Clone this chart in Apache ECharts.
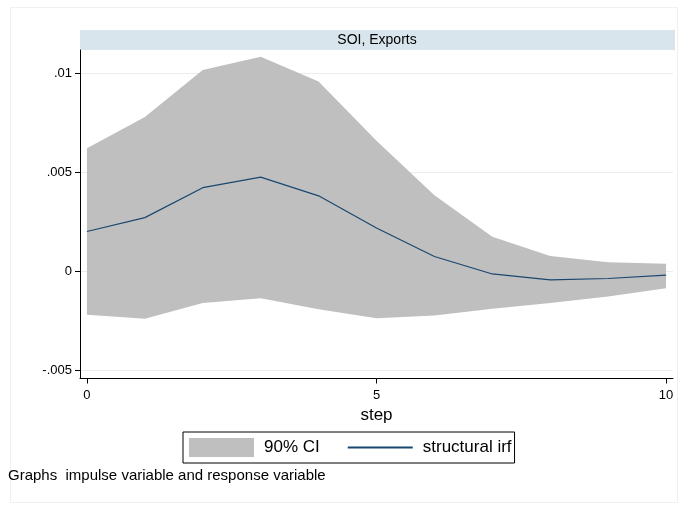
<!DOCTYPE html>
<html>
<head>
<meta charset="utf-8">
<script src="https://cdn.jsdelivr.net/npm/echarts@6/dist/echarts.min.js"></script>
<style>
  html, body { margin: 0; padding: 0; background: #ffffff; }
  #chart { width: 686px; height: 506px; }
</style>
</head>
<body>
<div id="chart"></div>
<script>
// Impulse response of Exports to an SOI shock, with 90% confidence band
const steps = [0, 1, 2, 3, 4, 5, 6, 7, 8, 9, 10];
const irf   = [0.00202, 0.00272, 0.00423, 0.00476, 0.00382, 0.00220, 0.00076, -0.00012, -0.00042, -0.00035, -0.00018];
const ciUpper = [0.00622, 0.00780, 0.01017, 0.01084, 0.00958, 0.00660, 0.00385, 0.00175, 0.00078, 0.00047, 0.00040];
const ciLower = [-0.00218, -0.00238, -0.00159, -0.00134, -0.00190, -0.00235, -0.00222, -0.00187, -0.00159, -0.00126, -0.00084];

const xTickValues = [0, 5, 10];
const yTickValues = [-0.005, 0, 0.005, 0.01];
const yTickLabels = ['-.005', '0', '.005', '.01'];

const panelTitle = 'SOI, Exports';
const xTitle = 'step';
const ciName = '90% CI';
const irfName = 'structural irf';
const noteText = 'Graphs  impulse variable and response variable';

const FONT = 'Liberation Sans, Arial, sans-serif';

const bandRows = steps.map((s, i) => [s, ciLower[i], ciUpper[i]]);
const irfPts   = steps.map((s, i) => [s, irf[i]]);

// One closed polygon: along the upper bound, then back along the lower bound
function renderBand(params, api) {
  if (params.dataIndex !== 0) return null;
  const top = bandRows.map(r => api.coord([r[0], r[2]]));
  const bottom = bandRows.slice().reverse().map(r => api.coord([r[0], r[1]]));
  return {
    type: 'polygon',
    shape: { points: top.concat(bottom) },
    style: { fill: '#bfbfbf', stroke: null }
  };
}

const chart = echarts.init(document.getElementById('chart'), null, { renderer: 'canvas' });

chart.setOption({
  backgroundColor: '#ffffff',
  animation: false,
  grid: { left: 80, right: 13, top: 50, bottom: 127.5, containLabel: false },
  xAxis: {
    type: 'value',
    min: -0.12,
    max: 10.12,
    name: xTitle,
    nameLocation: 'middle',
    nameGap: 27,
    nameTextStyle: { fontFamily: FONT, fontSize: 17, color: '#000' },
    axisLine: { show: true, onZero: false, lineStyle: { color: '#000', width: 1 } },
    axisTick: { show: true, inside: false, length: 5, customValues: xTickValues, lineStyle: { color: '#000' } },
    axisLabel: { customValues: xTickValues, margin: 10, fontFamily: FONT, fontSize: 13, color: '#000' },
    splitLine: { show: false }
  },
  yAxis: {
    type: 'value',
    min: -0.005393,
    max: 0.011175,
    axisLine: { show: true, onZero: false, lineStyle: { color: '#000', width: 1 } },
    axisTick: { show: true, inside: false, length: 5, customValues: yTickValues, lineStyle: { color: '#000' } },
    axisLabel: {
      customValues: yTickValues,
      margin: 8,
      fontFamily: FONT, fontSize: 13, color: '#000',
      formatter: v => {
        const i = yTickValues.findIndex(t => Math.abs(t - v) < 1e-9);
        return i >= 0 ? yTickLabels[i] : '';
      }
    },
    splitLine: { show: true, lineStyle: { color: '#ececec', width: 1 } }
  },
  legend: {
    left: 183,
    top: 432,
    orient: 'horizontal',
    padding: [6, 3, 6, 6],
    borderColor: '#000',
    borderWidth: 1,
    itemWidth: 65,
    itemHeight: 19,
    itemGap: 28,
    symbolKeepAspect: true,
    textStyle: { fontFamily: FONT, fontSize: 17, color: '#000', padding: [0, 0, 0, 5] },
    data: [
      { name: ciName, icon: 'rect', itemStyle: { color: '#bfbfbf' } },
      { name: irfName, icon: 'path://M0,9H62V11H0Z', itemStyle: { color: '#1a476f' } }
    ]
  },
  graphic: [
    {
      type: 'rect',
      shape: { x: 10.5, y: 7.5, width: 667, height: 495 },
      style: { fill: null, stroke: '#f0f0f0', lineWidth: 1 },
      silent: true, z: -10
    },
    {
      type: 'rect',
      shape: { x: 80, y: 30, width: 595, height: 20 },
      style: { fill: '#d8e5ec' },
      silent: true
    },
    {
      type: 'text',
      x: 377, y: 40,
      style: { text: panelTitle, fontFamily: FONT, fontSize: 14, fill: '#000', align: 'center', verticalAlign: 'middle' },
      silent: true
    },
    {
      type: 'text',
      x: 8, y: 476,
      style: { text: noteText, fontFamily: FONT, fontSize: 15, fill: '#000', align: 'left', verticalAlign: 'middle' },
      silent: true
    }
  ],
  series: [
    {
      name: ciName,
      type: 'custom',
      data: bandRows,
      encode: { x: 0, y: [1, 2] },
      renderItem: renderBand,
      color: '#bfbfbf',
      clip: true,
      silent: true,
      z: 2
    },
    {
      name: irfName,
      type: 'line',
      data: irfPts,
      symbol: 'none',
      color: '#1a476f',
      lineStyle: { color: '#1a476f', width: 1.2 },
      silent: true,
      z: 3
    }
  ]
});
</script>
</body>
</html>
